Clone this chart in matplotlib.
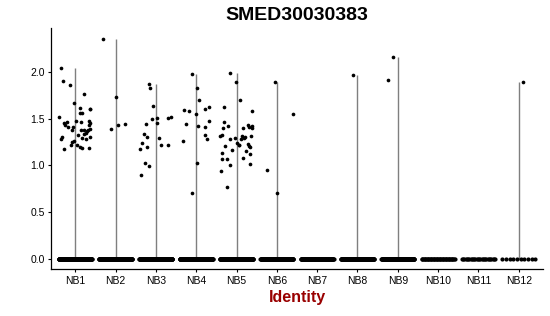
import numpy as np
import matplotlib
matplotlib.use("Agg")
import matplotlib.pyplot as plt

plt.rcParams['font.family'] = ['Liberation Sans', 'DejaVu Sans']

groups = ['NB1', 'NB2', 'NB3', 'NB4', 'NB5', 'NB6',
          'NB7', 'NB8', 'NB9', 'NB10', 'NB11', 'NB12']

# number of cells with zero expression per group
n_zero = [200, 200, 200, 200, 200, 130, 110, 130, 120, 45, 28, 10]

# non-zero expression values per group, with the jitter offset
nb1_vals = [2.04, 1.91, 1.86, 1.77, 1.67, 1.52, 1.62, 1.61, 1.56, 1.56, 1.30, 1.28,
            1.45, 1.47, 1.43, 1.41, 1.41, 1.48, 1.38, 1.33, 1.47, 1.48, 1.46, 1.43,
            1.38, 1.38, 1.35, 1.38, 1.39, 1.29, 1.28, 1.34, 1.30, 1.26, 1.25, 1.22,
            1.22, 1.18, 1.20, 1.19, 1.19, 1.61, 1.37]
nb1_off = [-0.35, -0.31, -0.14, 0.21, -0.04, -0.39, 0.13, 0.37, 0.12, 0.17, -0.32, -0.34,
           -0.28, -0.21, -0.25, -0.17, -0.06, 0.01, -0.08, 0.07, 0.15, 0.34, 0.36, 0.33,
           0.15, 0.23, 0.26, 0.31, 0.36, 0.17, 0.28, 0.22, 0.37, -0.03, -0.07, 0.04,
           -0.11, -0.27, 0.11, 0.17, 0.35, 0.36, 0.30]
nb2_vals = [2.355, 1.73, 1.39, 1.43, 1.445]
nb2_off = [-0.31, 0.02, -0.12, 0.07, 0.23]
nb3_vals = [1.875, 1.83, 1.64, 1.50, 1.51, 1.46, 1.445, 1.505, 1.52, 1.34, 1.31, 1.24,
            1.18, 1.20, 1.29, 1.22, 1.22, 1.03, 0.99, 0.90]
nb3_off = [-0.17, -0.14, -0.06, -0.10, 0.03, 0.04, -0.25, 0.31, 0.38, -0.30, -0.21, -0.35,
           -0.40, -0.21, 0.08, 0.12, 0.29, -0.26, -0.16, -0.38]
nb4_vals = [1.986, 1.83, 1.70, 1.58, 1.59, 1.55, 1.60, 1.63, 1.445, 1.42, 1.41, 1.48,
            1.33, 1.28, 1.26, 1.03, 0.70]
nb4_off = [-0.11, 0.02, 0.07, -0.18, -0.30, 0.00, 0.23, 0.32, -0.26, 0.04, 0.23, 0.31,
           0.23, 0.28, -0.33, 0.03, -0.11]
nb5_vals = [1.99, 1.90, 1.70, 1.63, 1.58, 1.47, 1.42, 1.40, 1.33, 1.32, 1.28, 1.29,
            1.405, 1.43, 1.41, 1.42, 1.40, 1.32, 1.32, 1.285, 1.29, 1.30, 1.215, 1.24,
            1.22, 1.23, 1.21, 1.20, 1.21, 1.17, 1.15, 1.13, 1.07, 1.07, 1.01, 1.12,
            1.08, 1.02, 0.94, 0.77]
nb5_off = [-0.17, -0.02, 0.09, -0.31, 0.39, -0.30, -0.22, -0.34, -0.37, -0.40, -0.17, -0.03,
           0.17, 0.28, 0.32, 0.39, 0.39, 0.37, 0.14, 0.11, 0.18, 0.21, 0.06, 0.01,
           0.05, 0.29, 0.32, 0.34, -0.28, -0.12, 0.23, -0.35, -0.35, -0.23, -0.16, 0.33,
           0.16, 0.34, -0.38, -0.23]
nb6_vals = [1.90, 1.55, 0.95, 0.70]
nb6_off = [-0.05, 0.39, -0.24, 0.01]
nb8_vals = [1.965]
nb8_off = [-0.12]
nb9_vals = [2.165, 1.92]
nb9_off = [-0.12, -0.25]
nb12_vals = [1.90]
nb12_off = [0.10]

nonzero = {
    'NB1': (nb1_vals, nb1_off),
    'NB2': (nb2_vals, nb2_off),
    'NB3': (nb3_vals, nb3_off),
    'NB4': (nb4_vals, nb4_off),
    'NB5': (nb5_vals, nb5_off),
    'NB6': (nb6_vals, nb6_off),
    'NB8': (nb8_vals, nb8_off),
    'NB9': (nb9_vals, nb9_off),
    'NB12': (nb12_vals, nb12_off),
}


def main():
    fig = plt.figure(figsize=(5.5, 3.16), dpi=100)
    ax = fig.add_axes([51 / 550, 1 - 269.3 / 316, 492 / 550, 241.3 / 316])

    # violins collapse to thin lines because nearly every cell is zero
    for i, g in enumerate(groups):
        pos = i + 1
        if g in nonzero:
            vals, off = nonzero[g]
            ax.vlines(pos, 0, max(vals), color='#7f7f7f', lw=1.0, zorder=1)

    for i, g in enumerate(groups):
        pos = i + 1
        xs = pos + np.linspace(-0.41, 0.41, n_zero[i])
        ax.scatter(xs, np.zeros(n_zero[i]), s=9, color='black', lw=0, zorder=2)
        if g in nonzero:
            vals, off = nonzero[g]
            ax.scatter(pos + np.array(off), vals, s=7, color='black', lw=0, zorder=3)

    ax.set_xlim(0.4, 12.6)
    ax.set_ylim(-0.114, 2.474)
    ax.set_xticks(range(1, len(groups) + 1))
    ax.set_xticklabels(groups)
    ax.set_yticks([0, 0.5, 1.0, 1.5, 2.0])
    ax.set_yticklabels(['0.0', '0.5', '1.0', '1.5', '2.0'])
    ax.tick_params(labelsize=7.5, length=2.5, width=0.8, color='black', pad=2)
    for side in ['top', 'right']:
        ax.spines[side].set_visible(False)
    for side in ['left', 'bottom']:
        ax.spines[side].set_linewidth(0.9)

    ax.set_xlabel('Identity', fontsize=11.5, fontweight='bold', color='#990000', labelpad=3)
    fig.text(297 / 550, 1 - 15 / 316, 'SMED30030383', fontsize=14, fontweight='bold',
             ha='center', va='center')

    fig.savefig('out.png', dpi=100)


if __name__ == '__main__':
    main()
